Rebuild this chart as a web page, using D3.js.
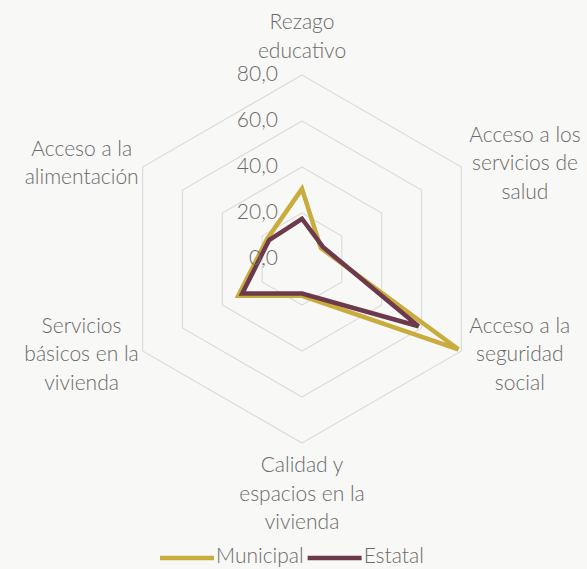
<!DOCTYPE html>
<html>
<head>
<meta charset="utf-8">
<script src="https://cdn.jsdelivr.net/npm/d3@7"></script>
<style>
  html, body { margin: 0; padding: 0; background: #f8f8f6; }
  svg { display: block; }
  text { font-family: Lato, "Open Sans", sans-serif; font-weight: 300; fill: #6a6a6a; }
</style>
</head>
<body>
<svg id="chart" width="587" height="569"></svg>
<script>
// Chart data
const categoryLines = [
  ["Rezago", "educativo"],
  ["Acceso a los", "servicios de", "salud"],
  ["Acceso a la", "seguridad", "social"],
  ["Calidad y", "espacios en la", "vivienda"],
  ["Servicios", "básicos en la", "vivienda"],
  ["Acceso a la", "alimentación"]
];
const categories = categoryLines.map(l => l.join(" "));
const seriesNames = ["Municipal", "Estatal"];
const municipal = [30.5, 9.5, 78.5, 16.0, 32.0, 17.5];
const estatal = [17.5, 10.5, 58.5, 15.0, 30.0, 16.5];
const tickValues = [0, 20, 40, 60, 80];
const colors = ["#c9ac3e", "#6c3a4c"];

function drawRadar() {
  const svg = d3.select("#chart");
  const cx = 302, cy = 259; // centre of the web
  const R = 184;
  const lineH = 28.5;
  const fs = 21;

  const r = d3.scaleLinear().domain([0, 80]).range([0, R]);
  const angle = d3.scaleLinear().domain([0, categories.length]).range([0, 2 * Math.PI]);
  const fmt = v => d3.format(".1f")(v).replace(".", ",");

  const g = svg.append("g").attr("transform", `translate(${cx},${cy})`);

  // point on axis i at value v
  const pt = (i, v) => [Math.sin(angle(i)) * r(v), -Math.cos(angle(i)) * r(v)];

  // hexagon grid rings
  g.selectAll("path.ring")
    .data(tickValues.filter(t => t > 0))
    .enter()
    .append("path")
    .attr("class", "ring")
    .attr("d", t => d3.line()(categories.map((c, i) => pt(i, t))) + "Z")
    .attr("fill", "none")
    .attr("stroke", "#dcdcdc")
    .attr("stroke-width", 1.2);

  // series lines
  const radial = d3.lineRadial()
    .angle((d, i) => angle(i))
    .radius(d => r(d))
    .curve(d3.curveLinearClosed);

  [municipal, estatal].forEach((vals, k) => {
    g.append("path")
      .attr("d", radial(vals))
      .attr("fill", "none")
      .attr("stroke", colors[k])
      .attr("stroke-width", 4.5)
      .attr("stroke-linejoin", "miter");
  });

  // tick labels, left of the vertical axis
  g.selectAll("text.tick")
    .data(tickValues)
    .enter()
    .append("text")
    .attr("class", "tick")
    .attr("x", -24)
    .attr("y", t => -r(t) + 1)
    .attr("text-anchor", "end")
    .attr("dominant-baseline", "middle")
    .attr("font-size", fs)
    .text(fmt);

  // category labels
  categoryLines.forEach((lines, i) => {
    const [vx, vy] = pt(i, 80);
    const t = g.append("text").attr("font-size", fs).attr("text-anchor", "middle");
    const spans = lines.map(l => t.append("tspan").text(l));
    const w = d3.max(spans, s => s.node().getComputedTextLength());
    const h = lines.length * lineH;
    const sx = Math.sin(angle(i)), sy = -Math.cos(angle(i));
    let bx, top;
    if (Math.abs(sx) < 0.01) {
      bx = vx;
      top = sy < 0 ? vy - 8 - h : vy + 10;
    } else {
      bx = sx > 0 ? vx + 8 + w / 2 : vx - 4 - w / 2;
      top = vy + (sy < 0 ? -2 : 5) - h / 2;
    }
    spans.forEach((s, j) => {
      s.attr("x", bx).attr("y", top + lineH * j + lineH / 2).attr("dominant-baseline", "middle");
    });
  });

  // legend
  const legend = svg.append("g").attr("transform", "translate(160,558)");
  let x = 0;
  seriesNames.forEach((name, k) => {
    legend.append("line")
      .attr("x1", x).attr("x2", x + 54)
      .attr("y1", 0).attr("y2", 0)
      .attr("stroke", colors[k])
      .attr("stroke-width", 4.5);
    const txt = legend.append("text")
      .attr("x", x + 56)
      .attr("y", 0)
      .attr("dominant-baseline", "middle")
      .attr("font-size", fs)
      .text(name);
    x += 56 + txt.node().getComputedTextLength() + 4;
  });
}

drawRadar();
</script>
</body>
</html>
